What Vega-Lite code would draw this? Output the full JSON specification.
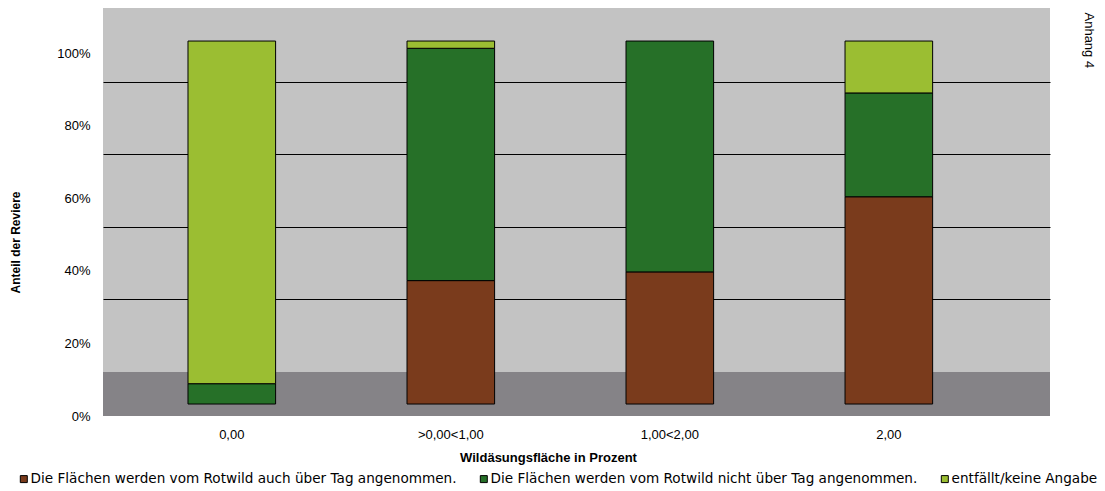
{
  "$schema": "https://vega.github.io/schema/vega-lite/v6.json",
  "autosize": {"type": "none"},
  "width": 947,
  "height": 408,
  "padding": {"left": 103, "top": 8, "right": 55, "bottom": 75},
  "background": "white",
  "config": {
    "view": {"fill": "#C3C3C3", "stroke": null},
    "font": "Liberation Sans"
  },
  "resolve": {"axis": {"y": "independent"}},
  "datasets": {
    "bars": [
      {"flaeche": "0,00", "kategorie": "Die Flächen werden vom Rotwild nicht über Tag angenommen.", "ord": 2, "anteil": 5.6},
      {"flaeche": "0,00", "kategorie": "entfällt/keine Angabe", "ord": 3, "anteil": 94.4},
      {"flaeche": ">0,00<1,00", "kategorie": "Die Flächen werden vom Rotwild auch über Tag angenommen.", "ord": 1, "anteil": 34},
      {"flaeche": ">0,00<1,00", "kategorie": "Die Flächen werden vom Rotwild nicht über Tag angenommen.", "ord": 2, "anteil": 64},
      {"flaeche": ">0,00<1,00", "kategorie": "entfällt/keine Angabe", "ord": 3, "anteil": 2},
      {"flaeche": "1,00<2,00", "kategorie": "Die Flächen werden vom Rotwild auch über Tag angenommen.", "ord": 1, "anteil": 36.4},
      {"flaeche": "1,00<2,00", "kategorie": "Die Flächen werden vom Rotwild nicht über Tag angenommen.", "ord": 2, "anteil": 63.6},
      {"flaeche": "2,00", "kategorie": "Die Flächen werden vom Rotwild auch über Tag angenommen.", "ord": 1, "anteil": 57.1},
      {"flaeche": "2,00", "kategorie": "Die Flächen werden vom Rotwild nicht über Tag angenommen.", "ord": 2, "anteil": 28.6},
      {"flaeche": "2,00", "kategorie": "entfällt/keine Angabe", "ord": 3, "anteil": 14.3}
    ]
  },
  "layer": [
    {
      "data": {"values": [{"boden": "Boden"}]},
      "mark": {"type": "rect", "color": "#858387"},
      "encoding": {
        "y": {
          "datum": -3.3,
          "type": "quantitative",
          "scale": {"domain": [-3.3, 109.1], "nice": false, "zero": false},
          "axis": {
            "orient": "right",
            "title": "Anhang 4",
            "titleAngle": 90,
            "titleX": 38,
            "titleY": 4,
            "titleAlign": "left",
            "titleBaseline": "middle",
            "titleFontSize": 13,
            "titleFontWeight": "normal",
            "titleFont": "Liberation Sans",
            "titleColor": "black",
            "labels": false,
            "ticks": false,
            "domain": false,
            "grid": false
          }
        },
        "y2": {"datum": 8.8}
      }
    },
    {
      "data": {"name": "bars"},
      "mark": {"type": "bar", "stroke": "black", "strokeWidth": 1},
      "encoding": {
        "x": {
          "field": "flaeche",
          "type": "nominal",
          "sort": ["0,00", ">0,00<1,00", "1,00<2,00", "2,00"],
          "scale": {"paddingInner": 0.6, "paddingOuter": 0.462, "align": 0.42},
          "axis": {
            "title": "Wildäsungsfläche in Prozent",
            "titleFontSize": 13,
            "titleFontWeight": "bold",
            "titleFont": "Liberation Sans",
            "titleX": 445,
            "titlePadding": 10,
            "labelAngle": 0,
            "labelFontSize": 13,
            "labelFont": "Liberation Sans",
            "labelColor": "black",
            "labelPadding": 12,
            "ticks": false,
            "domain": false,
            "grid": false
          }
        },
        "y": {
          "field": "anteil",
          "type": "quantitative",
          "stack": "zero",
          "scale": {"domain": [-3.3, 109.1], "nice": false, "zero": false},
          "axis": {
            "orient": "left",
            "title": "Anteil der Reviere",
            "titleFontSize": 12,
            "titleFontWeight": "bold",
            "titleFont": "Liberation Sans",
            "titleX": -81,
            "titleY": 234,
            "values": [8.8, 28.8, 48.8, 68.8, 88.8, 108.8],
            "labelExpr": "format(datum.value - 8.8, '.0f') + '%'",
            "labelFontSize": 13,
            "labelFont": "Liberation Sans",
            "labelColor": "black",
            "labelPadding": 13,
            "labelOffset": 44,
            "ticks": false,
            "domain": false,
            "grid": true,
            "gridColor": "black",
            "gridWidth": 1,
            "gridOpacity": {"condition": {"test": "datum.value > 10 && datum.value < 100", "value": 1}, "value": 0}
          }
        },
        "color": {
          "field": "kategorie",
          "type": "nominal",
          "scale": {
            "domain": ["Die Flächen werden vom Rotwild auch über Tag angenommen.", "Die Flächen werden vom Rotwild nicht über Tag angenommen.", "entfällt/keine Angabe"],
            "range": ["#7A3B1C", "#267028", "#9BBE32"]
          },
          "legend": {
            "title": null,
            "orient": "none",
            "direction": "horizontal",
            "legendX": -86,
            "legendY": 464,
            "symbolType": "square",
            "symbolSize": 49,
            "symbolStrokeColor": "black",
            "symbolStrokeWidth": 1,
            "labelFontSize": 13.6,
            "labelFont": "DejaVu Sans",
            "labelColor": "black",
            "labelLimit": 0,
            "labelOffset": 0,
            "columnPadding": 20
          }
        },
        "order": {"field": "ord", "type": "quantitative"}
      }
    }
  ]
}
